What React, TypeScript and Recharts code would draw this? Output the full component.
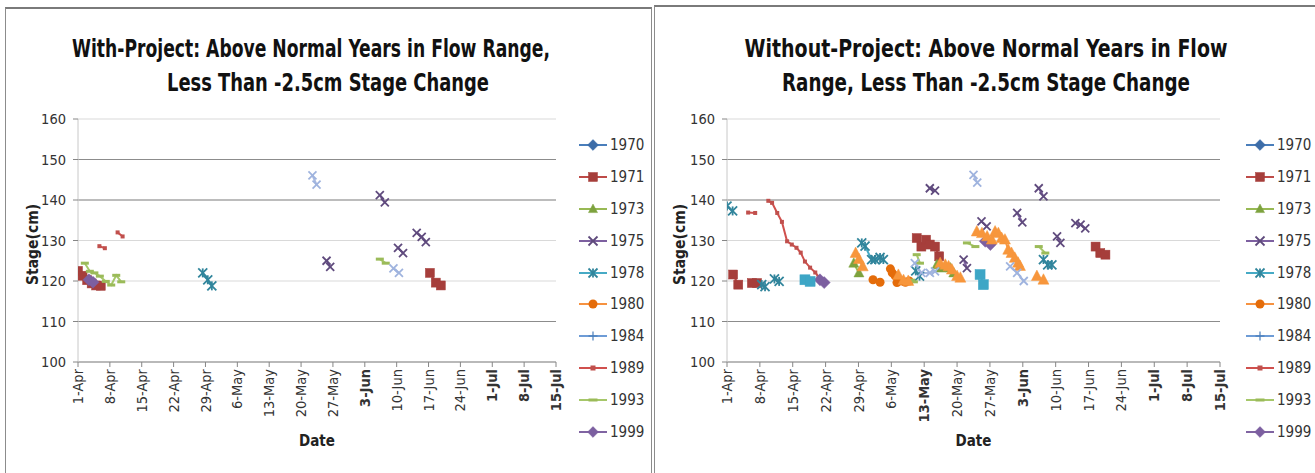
import React from 'react';
import { LineChart, Line, XAxis, YAxis, CartesianGrid, ReferenceLine } from 'recharts';

const FONT = "'Liberation Sans Narrow','Arial Narrow','DejaVu Sans Condensed','Liberation Sans',sans-serif";
const TITLE_FONT = "'DejaVu Sans Condensed','Liberation Sans',sans-serif";

// ---------- axes ----------
const X_TICKS = [0, 7, 14, 21, 28, 35, 42, 49, 56, 63, 70, 77, 84, 91, 98, 105];
const X_TICK_LABELS = ['1-Apr', '8-Apr', '15-Apr', '22-Apr', '29-Apr', '6-May', '13-May', '20-May', '27-May', '3-Jun', '10-Jun', '17-Jun', '24-Jun', '1-Jul', '8-Jul', '15-Jul'];
const Y_TICKS = [100, 110, 120, 130, 140, 150, 160];
const DARK_GRID = [110, 140, 150];
const LEGEND_YEARS = ['1970', '1971', '1973', '1975', '1978', '1980', '1984', '1989', '1993', '1999'];
const BOLD_LEFT = ['3-Jun', '1-Jul', '8-Jul', '15-Jul'];
const BOLD_RIGHT = ['13-May', '3-Jun', '1-Jul', '8-Jul', '15-Jul'];
const TITLE_LEFT = ['With-Project: Above Normal Years in Flow Range,', 'Less Than -2.5cm Stage Change'];
const TITLE_RIGHT = ['Without-Project: Above Normal Years in Flow', 'Range, Less Than -2.5cm Stage Change'];

// ---------- data: [day since 1-Apr, stage cm], grouped in contiguous runs ----------
// With-Project
const WITH_1971 = [[[0, 122.5], [1, 121.3], [2, 120.2], [3, 119.4], [4, 118.9], [5, 118.8]], [[77.3, 122], [78.6, 119.6], [79.7, 118.9]]];
const WITH_1975 = [[[54.6, 125], [55.4, 123.5]], [[66.3, 141.2], [67.4, 139.4]], [[70.3, 128.2], [71.4, 126.9]], [[74.4, 131.9], [75.5, 130.9], [76.4, 129.6]]];
const WITH_1978 = [[[27.4, 122], [28.5, 120.3], [29.4, 118.8]]];
const WITH_1989 = [[[4.7, 128.6], [5.9, 128.1]], [[8.7, 132], [9.8, 131]]];
const WITH_1993 = [[[1.5, 124.4], [2.6, 122.4], [3.6, 122], [4.8, 121.2], [6.1, 119.9], [7.3, 119], [8.4, 121.4], [9.5, 119.8]], [[66.3, 125.4], [67.6, 124.4]]];
const WITH_1999 = [[[2.4, 120.3], [3.3, 119.7]]];
const WITH_EXTRA_C = [[[51.5, 146.1], [52.4, 143.8]], [[69.3, 123.1], [70.5, 122]]];

// Without-Project
const WO_1971 = [[[1.3, 121.6], [2.4, 119.1]], [[5.3, 119.5], [6.4, 119.5]], [[40.4, 130.6], [41.4, 128.5], [42.4, 130.2], [43.2, 129], [44.3, 128.5], [45.2, 126.1]], [[78.5, 128.5], [79.5, 126.9], [80.6, 126.5]]];
const WO_1973 = [[[27, 124.4], [28.1, 122]], [[44.7, 124], [45.6, 123.2], [46.5, 123.6], [47.6, 123.2], [48.3, 122]]];
const WO_1975 = [[[43.2, 142.9], [44.3, 142.3]], [[50.4, 125.3], [51.1, 123.2]], [[54.2, 134.7], [55.3, 133.5]], [[61.8, 136.8], [62.9, 134.5]], [[66.4, 142.9], [67.4, 140.9]], [[70.3, 131], [71, 129.4]], [[74.2, 134.3], [75.3, 133.9], [76.3, 133]]];
const WO_1978 = [[[0, 138.5], [1.2, 137.3]], [[7.4, 119.1], [8.1, 118.6]], [[10.1, 120.5], [11.1, 119.9]], [[28.7, 129.4], [29.4, 128.6], [30.8, 125.3], [31.5, 125.3], [32.6, 125.8], [33.3, 125.3]], [[40.2, 122.5], [41, 121.2]], [[67.4, 125.3], [68.3, 124], [69.2, 124]]];
const WO_1980 = [[[31.1, 120.3], [32.6, 119.7]], [[34.8, 123], [35.2, 122], [35.8, 121.3], [36.2, 119.6], [37.3, 120], [38, 119.7], [38.8, 120]]];
const WO_1989 = [[[4.5, 136.9], [6, 136.8]], [[8.8, 139.8], [9.6, 139.3], [10.7, 136.8], [11.7, 134.6], [12.8, 129.8], [13.8, 129], [14.8, 128.2], [15.7, 127], [16.6, 124.8], [17.7, 123.3], [18.8, 122.1], [19.5, 121]]];
const WO_1993 = [[[39.2, 120.2], [39.8, 119.8]], [[40.4, 126.5], [41.1, 124.4]], [[51.1, 129.4], [52.9, 128.5]], [[66.4, 128.5], [67.8, 126.9]]];
const WO_1999 = [[[19.8, 120.3], [20.7, 119.6]], [[55, 129.8], [56.1, 129]]];
const WO_EXTRA_A = [[[16.6, 120.3], [17.7, 119.9]], [[53.9, 121.6], [54.6, 119.1]]];
const WO_EXTRA_B = [[[27.4, 126.9], [28.1, 125.4], [28.9, 123.6]], [[36.5, 121.5], [37.6, 120.2], [38.6, 120]], [[45.4, 124.4], [46.5, 124], [47.2, 123.6], [47.9, 122.8], [49, 121.2], [49.7, 120.8]], [[53.2, 132.2], [54.3, 131.8], [55.4, 131], [56.4, 130.2], [57.1, 132.2], [57.8, 131.8], [58.5, 130.6], [59.2, 130.2], [59.9, 127.7], [60.6, 126.9], [61.3, 125.7], [62, 124.5], [62.4, 123.7]], [[66, 121.2], [67.4, 120.3]]];
const WO_EXTRA_C = [[[40, 124.4], [41.4, 122], [43.2, 122], [44.3, 122.4]], [[52.5, 146.2], [53.3, 144.3]], [[60.3, 123.6], [61.8, 122], [63.2, 120]]];

// ---------- styles ----------
type Kind = 'diamond' | 'square' | 'triangle' | 'x' | 'star' | 'circle' | 'plus' | 'smallsquare' | 'dash';
interface Sty { line: string; kind: Kind; fill: string; size: number }
const STYLES: Record<string, Sty> = {
  '1970': { line: '#4A7EBB', kind: 'diamond', fill: '#3D6DA8', size: 8 },
  '1971': { line: '#BE4B48', kind: 'square', fill: '#A63E3B', size: 9 },
  '1973': { line: '#98B954', kind: 'triangle', fill: '#7DA23E', size: 10 },
  '1975': { line: '#7D60A0', kind: 'x', fill: '#5F4A7D', size: 8 },
  '1978': { line: '#46AAC5', kind: 'star', fill: '#31859C', size: 9 },
  '1980': { line: '#F69240', kind: 'circle', fill: '#E46C0A', size: 9 },
  '1984': { line: '#6E9CD6', kind: 'plus', fill: '#4A7EBB', size: 8 },
  '1989': { line: '#D0504D', kind: 'smallsquare', fill: '#C0504D', size: 4 },
  '1993': { line: '#A6C76A', kind: 'dash', fill: '#9BBB59', size: 8 },
  '1999': { line: '#8064A2', kind: 'diamond', fill: '#7C5FA0', size: 10 },
  A: { line: '#4BACC6', kind: 'square', fill: '#3DA6C6', size: 10 },
  B: { line: '#F79646', kind: 'triangle', fill: '#F7963C', size: 11 },
  C: { line: '#A7B9E0', kind: 'x', fill: '#9FB3DE', size: 8 },
};

function Marker({ kind, cx, cy, fill, size }: { kind: Kind; cx: number; cy: number; fill: string; size: number }) {
  const h = size / 2;
  switch (kind) {
    case 'diamond':
      return <polygon points={`${cx},${cy - h * 1.2} ${cx + h * 1.2},${cy} ${cx},${cy + h * 1.2} ${cx - h * 1.2},${cy}`} fill={fill} stroke={fill} strokeWidth={0.5} />;
    case 'square':
      return <rect x={cx - h} y={cy - h} width={size} height={size} fill={fill} stroke={fill} strokeWidth={0.5} />;
    case 'smallsquare':
      return <rect x={cx - h} y={cy - h} width={size} height={size} fill={fill} />;
    case 'triangle':
      return <polygon points={`${cx},${cy - h * 1.1} ${cx + h},${cy + h * 0.8} ${cx - h},${cy + h * 0.8}`} fill={fill} stroke={fill} strokeWidth={0.5} />;
    case 'circle':
      return <circle cx={cx} cy={cy} r={h} fill={fill} />;
    case 'x':
      return (
        <g stroke={fill} strokeWidth={1.8}>
          <line x1={cx - h} y1={cy - h} x2={cx + h} y2={cy + h} />
          <line x1={cx - h} y1={cy + h} x2={cx + h} y2={cy - h} />
        </g>
      );
    case 'star':
      return (
        <g stroke={fill} strokeWidth={1.8}>
          <line x1={cx - h} y1={cy - h} x2={cx + h} y2={cy + h} />
          <line x1={cx - h} y1={cy + h} x2={cx + h} y2={cy - h} />
          <line x1={cx} y1={cy - h} x2={cx} y2={cy + h} />
        </g>
      );
    case 'plus':
      return (
        <g stroke={fill} strokeWidth={1.2}>
          <line x1={cx - h} y1={cy} x2={cx + h} y2={cy} />
          <line x1={cx} y1={cy - h} x2={cx} y2={cy + h} />
        </g>
      );
    case 'dash':
      return <rect x={cx - h} y={cy - 1.5} width={size} height={3} fill={fill} />;
  }
  return null;
}

type Seg = number[][];
function toRows(segs: Seg[]) {
  const rows: { x: number; y: number | null }[] = [];
  segs.forEach((seg, i) => {
    if (i > 0) {
      const prev = segs[i - 1][segs[i - 1].length - 1][0];
      rows.push({ x: (prev + seg[0][0]) / 2, y: null });
    }
    seg.forEach(([x, y]) => rows.push({ x, y }));
  });
  return rows;
}

const makeDot = (sty: Sty, id: string) => (props: any) => {
  const { cx, cy, index, payload } = props;
  if (!payload || payload.y == null || cx == null || cy == null || isNaN(cy)) return <g key={`${id}-${index}`} />;
  return (
    <g key={`${id}-${index}`}>
      <Marker kind={sty.kind} cx={cx} cy={cy} fill={sty.fill} size={sty.size} />
    </g>
  );
};

function LegendBox({ left, top }: { left: number; top: number }) {
  return (
    <div style={{ position: 'absolute', left, top, fontFamily: FONT, fontSize: 15, color: '#333' }}>
      {LEGEND_YEARS.map((yr) => {
        const s = STYLES[yr];
        return (
          <div key={yr} style={{ height: 31.9, display: 'flex', alignItems: 'center' }}>
            <svg width={32} height={16} style={{ display: 'block' }}>
              <line x1={1} y1={8} x2={29} y2={8} stroke={s.line} strokeWidth={2} />
              <Marker kind={s.kind} cx={15} cy={8} fill={s.fill} size={s.kind === 'smallsquare' ? 5 : 9} />
            </svg>
            <span>{yr}</span>
          </div>
        );
      })}
    </div>
  );
}

const makeXTick = (bold: string[]) => (props: any) => {
  const { x, y, payload } = props;
  const label = X_TICK_LABELS[X_TICKS.indexOf(payload.value)] ?? '';
  return (
    <text x={x} y={y} transform={`rotate(-90 ${x} ${y})`} textAnchor="end" dy="0.35em" fontFamily={FONT} fontSize={14.5}
      fill="#333" fontWeight={bold.includes(label) ? 'bold' : 'normal'}>
      {label}
    </text>
  );
};

function Panel({ series, width, marginLeft, yLabelDx, bold }: {
  series: [string, Seg[]][]; width: number; marginLeft: number; yLabelDx: number; bold: string[];
}) {
  const YW = 60;
  const XH = 60;
  return (
    <LineChart width={width} height={473} margin={{ top: 119, right: 95, bottom: 473 - 362 - XH, left: marginLeft }}>
      <CartesianGrid vertical={false} stroke="#d9d9d9" strokeWidth={1.2} />
      {DARK_GRID.map((v) => (
        <ReferenceLine key={v} y={v} stroke="#8c8c8c" strokeWidth={1.2} />
      ))}
      <XAxis type="number" dataKey="x" domain={[0, 105]} ticks={X_TICKS} interval={0} height={XH}
        allowDataOverflow stroke="#868686" tickSize={5} tick={makeXTick(bold)}
        label={{
          content: (p: any) => {
            const vb = p.viewBox;
            return (
              <text x={vb.x + vb.width / 2} y={vb.y + 84} textAnchor="middle" fontFamily={FONT} fontSize={15} fontWeight="bold" fill="#222">
                Date
              </text>
            );
          },
        }}
      />
      <YAxis type="number" domain={[100, 160]} ticks={Y_TICKS} interval={0} width={YW} allowDataOverflow
        axisLine={{ stroke: '#c8c8c8' }} tickLine={{ stroke: '#868686' }} tickSize={5} tickMargin={7}
        tick={{ fontFamily: FONT, fontSize: 14.5, fill: '#333' }}
        label={{
          content: (p: any) => {
            const vb = p.viewBox;
            const cx = vb.x + yLabelDx;
            const cy = vb.y + vb.height / 2 + 4;
            return (
              <text x={cx} y={cy} transform={`rotate(-90 ${cx} ${cy})`} textAnchor="middle" dy="0.35em" fontFamily={FONT} fontSize={15.5} fontWeight="bold" fill="#222">
                Stage(cm)
              </text>
            );
          },
        }}
      />
      {series.map(([key, segs], i) => {
        const sty = STYLES[key];
        const id = `${key}-${i}`;
        return (
          <Line key={id} data={toRows(segs)} dataKey="y" type="linear" stroke={sty.line} strokeWidth={2}
            dot={makeDot(sty, id)} activeDot={false} connectNulls={false} isAnimationActive={false} legendType="none" />
        );
      })}
    </LineChart>
  );
}

const WITH_SERIES: [string, Seg[]][] = [
  ['1971', WITH_1971], ['1975', WITH_1975], ['1978', WITH_1978], ['1989', WITH_1989],
  ['1993', WITH_1993], ['1999', WITH_1999], ['C', WITH_EXTRA_C],
];
const WO_SERIES: [string, Seg[]][] = [
  ['1971', WO_1971], ['1973', WO_1973], ['1975', WO_1975], ['1978', WO_1978], ['1980', WO_1980],
  ['1989', WO_1989], ['1993', WO_1993], ['1999', WO_1999], ['A', WO_EXTRA_A], ['B', WO_EXTRA_B], ['C', WO_EXTRA_C],
];

function Titles() {
  const t = (cx: number, y: number, w: number, s: string) => (
    <text x={cx} y={y} textAnchor="middle" textLength={w} lengthAdjust="spacingAndGlyphs"
      fontFamily={TITLE_FONT} fontWeight="bold" fontSize={25} fill="#111">{s}</text>
  );
  return (
    <svg width={1315} height={110} style={{ position: 'absolute', left: 0, top: 0 }}>
      {t(311, 57, 478, TITLE_LEFT[0])}
      {t(328, 91, 322, TITLE_LEFT[1])}
      {t(986, 57, 483, TITLE_RIGHT[0])}
      {t(986, 91, 408, TITLE_RIGHT[1])}
    </svg>
  );
}

export default function App() {
  return (
    <div style={{ position: 'absolute', left: 0, top: 0, width: 1315, height: 473, overflow: 'hidden', background: '#fff' }}>
      <div style={{ position: 'absolute', left: 5, top: 7, width: 645, height: 480, borderTop: '2px solid #7a7a7a', borderLeft: '1px solid #8c8c8c', borderRight: '1px solid #8c8c8c' }} />
      <div style={{ position: 'absolute', left: 654, top: 5, width: 670, height: 480, borderTop: '2px solid #7a7a7a', borderLeft: '1px solid #8c8c8c' }} />
      <div style={{ position: 'absolute', left: 0, top: 0 }}>
        <Panel series={WITH_SERIES} width={651} marginLeft={18} yLabelDx={15} bold={BOLD_LEFT} />
      </div>
      <div style={{ position: 'absolute', left: 655, top: 0 }}>
        <Panel series={WO_SERIES} width={660} marginLeft={12} yLabelDx={13} bold={BOLD_RIGHT} />
      </div>
      <LegendBox left={578} top={129} />
      <LegendBox left={1245} top={129} />
      <Titles />
    </div>
  );
}
